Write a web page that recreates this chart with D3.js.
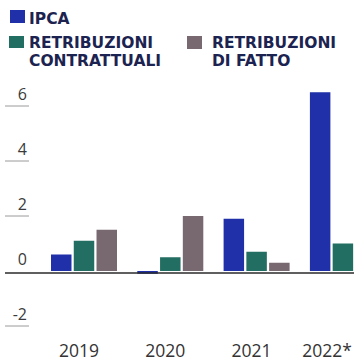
<!DOCTYPE html>
<html>
<head>
<meta charset="utf-8">
<script src="https://cdn.jsdelivr.net/npm/d3@7"></script>
<style>
  html, body { margin: 0; padding: 0; background: #ffffff; }
  svg { display: block; }
</style>
</head>
<body>
<svg id="chart" width="354" height="364"></svg>
<script>
const years = ["2019", "2020", "2021", "2022"];
const yearLabels = ["2019", "2020", "2021", "2022*"];
const seriesNames = ["IPCA", "RETRIBUZIONI CONTRATTUALI", "RETRIBUZIONI DI FATTO"];
const ipca = [0.6, -0.1, 1.9, 6.5];
const retribuzioniContrattuali = [1.1, 0.5, 0.7, 1.0];
const retribuzioniDiFatto = [1.5, 2.0, 0.3, null];
const yTicks = [-2, 0, 2, 4, 6];
const colors = ["#1f30a8", "#236e62", "#786870"];

const seriesValues = [ipca, retribuzioniContrattuali, retribuzioniDiFatto];
const data = years.map((yr, i) => ({
  year: yr,
  values: seriesNames.map((s, k) => ({ key: s, k, value: seriesValues[k][i] }))
}));

const svg = d3.select("#chart");

const y = d3.scaleLinear().domain([0, 6]).range([271, 106]);
const x0 = d3.scaleBand().domain(years).range([51, 51 + 4 * 86.3]).paddingInner(0);
const x1 = d3.scaleBand().domain(seriesNames).range([0, 66]).paddingInner(0.1);

// y tick marks and labels
const yg = svg.append("g");
yTicks.filter(t => t !== 0).forEach(t => {
  yg.append("line")
    .attr("x1", 5).attr("x2", 29)
    .attr("y1", y(t)).attr("y2", y(t))
    .attr("stroke", "#9a9a9a").attr("stroke-width", 1);
});
yTicks.forEach(t => {
  yg.append("text")
    .attr("x", 27).attr("y", y(t) - 6)
    .attr("text-anchor", "end")
    .attr("font-family", "'Open Sans', sans-serif")
    .attr("font-size", 16)
    .attr("fill", "#3a3a3a")
    .text(t);
});

// bars
const groups = svg.append("g").selectAll("g")
  .data(data).join("g")
  .attr("transform", d => `translate(${x0(d.year)},0)`);

groups.selectAll("rect")
  .data(d => d.values.filter(v => v.value !== null))
  .join("rect")
  .attr("x", v => x1(v.key))
  .attr("width", x1.bandwidth())
  .attr("y", v => v.value >= 0 ? y(v.value) : y(0))
  .attr("height", v => Math.max(1.5, Math.abs(y(v.value) - y(0))))
  .attr("fill", v => colors[v.k]);

// zero baseline
svg.append("line")
  .attr("x1", 5).attr("x2", 354)
  .attr("y1", y(0) + 2).attr("y2", y(0) + 2)
  .attr("stroke", "#2a2a2a").attr("stroke-width", 1.3);

// year labels
years.forEach((yr, i) => {
  const last = i === years.length - 1;
  svg.append("text")
    .attr("x", last ? 352 : x0(yr) + 28)
    .attr("y", 357)
    .attr("text-anchor", last ? "end" : "middle")
    .attr("font-family", "'Open Sans', sans-serif")
    .attr("font-size", 17.5)
    .attr("fill", "#333333")
    .text(yearLabels[i]);
});

// legend
const legendFont = "'DejaVu Sans', sans-serif";
const leg = svg.append("g");
function legendItem(sx, sy, sw, sh, color, tx, lines, baseY) {
  leg.append("rect").attr("x", sx).attr("y", sy).attr("width", sw).attr("height", sh).attr("fill", color);
  lines.forEach((ln, j) => {
    leg.append("text")
      .attr("x", tx).attr("y", baseY + j * 18)
      .attr("font-family", legendFont)
      .attr("font-weight", "bold")
      .attr("font-size", 15.5)
      .attr("fill", "#1c2350")
      .text(ln);
  });
}
legendItem(10, 10, 15, 13, colors[0], 29, ["IPCA"], 24);
legendItem(9, 36, 15, 12, colors[1], 29, ["RETRIBUZIONI", "CONTRATTUALI"], 48);
legendItem(187, 36, 15, 13, colors[2], 212, ["RETRIBUZIONI", "DI FATTO"], 48);
</script>
</body>
</html>
